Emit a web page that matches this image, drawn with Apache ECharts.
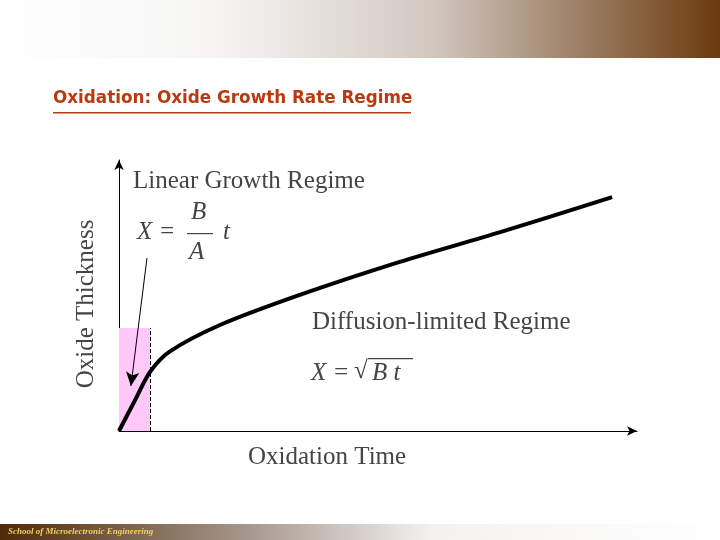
<!DOCTYPE html>
<html><head><meta charset="utf-8">
<script src="https://cdn.jsdelivr.net/npm/echarts@6/dist/echarts.min.js"></script>
<style>html,body{margin:0;padding:0;background:#fff}#c{width:720px;height:540px}</style>
</head><body><div id="c"></div>
<script>
var timeVals = [0, 3.1, 6, 9.7, 19.5, 34.9, 54.2, 73.6, 95.2];
var thickVals = [0, 11.4, 21.8, 29.2, 39.1, 50.2, 62.4, 73.4, 86.3];
var linearEnd = 6, linearTop = 38;
var chart = echarts.init(document.getElementById('c'));
var serif = '"Liberation Serif","DejaVu Serif",serif';
var F = '25px ' + serif, FI = 'italic 25px ' + serif;
chart.setOption({
  animation: false,
  grid: {left: 119, right: 83, top: 160, bottom: 109},
  xAxis: {type: 'value', min: 0, max: 100, axisLine: {lineStyle: {color: '#000', width: 1}, symbol: ['none', 'arrow'], symbolSize: [7, 10]},
    axisTick: {show: false}, axisLabel: {show: false}, splitLine: {show: false}},
  yAxis: {type: 'value', min: 0, max: 100, axisLine: {show: true, lineStyle: {color: '#000', width: 1}, symbol: ['none', 'arrow'], symbolSize: [7, 10]},
    axisTick: {show: false}, axisLabel: {show: false}, splitLine: {show: false}},
  series: [{
    type: 'line', smooth: 0.3, symbol: 'none',
    data: timeVals.map(function (t, i) { return [t, thickVals[i]]; }),
    lineStyle: {color: '#000', width: 4},
    markArea: {silent: true, itemStyle: {color: '#ffc8f8'}, data: [[{coord: [0, 0]}, {coord: [linearEnd, linearTop]}]]},
    markLine: {silent: true, symbol: ['none', 'none'], label: {show: false},
      data: [
        [{coord: [linearEnd, 0], lineStyle: {type: 'dashed', color: '#000', width: 1}}, {coord: [linearEnd, linearTop]}],
        [{coord: [5.4, 63.8], lineStyle: {type: 'solid', color: '#000', width: 1}, symbol: 'none'}, {coord: [2.3, 16.6], symbol: 'arrow', symbolSize: [10, 14]}]
      ]}
  }],
  graphic: [
    {type: 'rect', shape: {x: 0, y: 0, width: 720, height: 58}, style: {fill: new echarts.graphic.LinearGradient(0, 0, 1, 0, [{offset: 0, color: '#ffffff'}, {offset: 0.3, color: '#f6f5f4'}, {offset: 0.6, color: '#d2c8c0'}, {offset: 1, color: '#6b3a0e'}])}},
    {type: 'rect', shape: {x: 0, y: 524, width: 720, height: 16}, style: {fill: new echarts.graphic.LinearGradient(0, 0, 1, 0, [{offset: 0, color: '#4e2a08'}, {offset: 0.35, color: '#a89a90'}, {offset: 0.6, color: '#f4f2f0'}, {offset: 1, color: '#ffffff'}])}},
    {type: 'text', left: 8, top: 527, style: {text: 'School of Microelectronic Engineering', fill: '#f0d060', font: 'italic bold 9px ' + serif}},
    {type: 'text', left: 53, top: 90, style: {text: 'Oxidation: Oxide Growth Rate Regime', fill: '#b83a10', font: 'bold 16.8px "DejaVu Sans",sans-serif'}},
    {type: 'rect', shape: {x: 53, y: 112, width: 358, height: 1.5}, style: {fill: '#b83a10'}},
    {type: 'text', left: 133, top: 169, style: {text: 'Linear Growth Regime', fill: '#444', font: F}},
    {type: 'text', left: 137, top: 220, style: {text: 'X =', fill: '#444', font: FI}},
    {type: 'text', left: 191, top: 200, style: {text: 'B', fill: '#444', font: FI}},
    {type: 'rect', shape: {x: 187, y: 233, width: 26, height: 1.2}, style: {fill: '#444'}},
    {type: 'text', left: 189, top: 240, style: {text: 'A', fill: '#444', font: FI}},
    {type: 'text', left: 223, top: 220, style: {text: 't', fill: '#444', font: FI}},
    {type: 'text', left: 312, top: 310, style: {text: 'Diffusion-limited Regime', fill: '#444', font: F}},
    {type: 'text', left: 311, top: 361, style: {text: 'X =', fill: '#444', font: FI}},
    {type: 'text', left: 354, top: 359, style: {text: '\u221A', fill: '#444', font: F}},
    {type: 'rect', shape: {x: 368, y: 358, width: 45, height: 1.2}, style: {fill: '#444'}},
    {type: 'text', left: 372, top: 361, style: {text: 'B t', fill: '#444', font: FI}},
    {type: 'text', left: 248, top: 445, style: {text: 'Oxidation Time', fill: '#444', font: F}},
    {type: 'text', x: 74, y: 304, rotation: Math.PI / 2, style: {text: 'Oxide Thickness', fill: '#444', font: F, align: 'center', verticalAlign: 'top'}}
  ]
});
</script></body></html>
